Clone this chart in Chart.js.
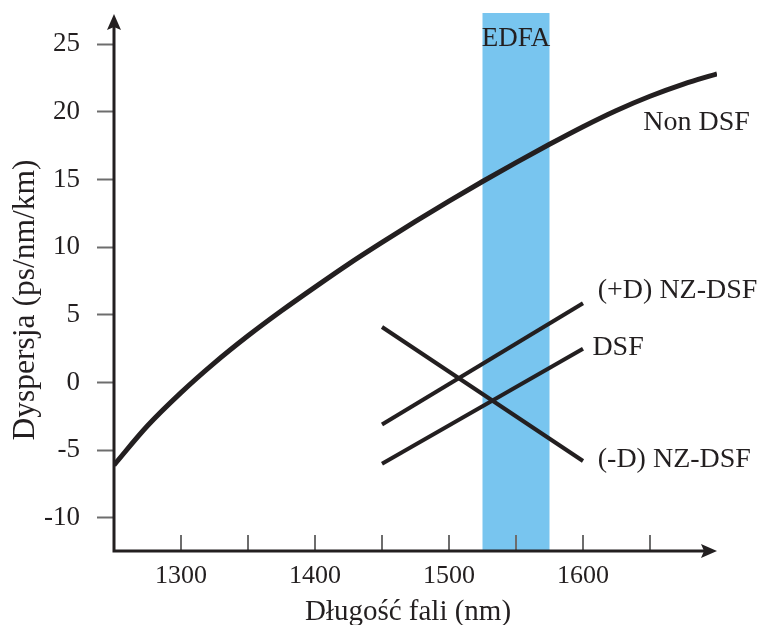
<!DOCTYPE html>
<html>
<head>
<meta charset="utf-8">
<script src="https://cdn.jsdelivr.net/npm/chart.js@4"></script>
<style>
  html, body { margin: 0; padding: 0; background: #fff; }
  #wrap { width: 760px; height: 625px; }
</style>
</head>
<body>
<div id="wrap"><canvas id="chart"></canvas></div>
<script>
// values
const nonDsfWavelengths = [1250, 1275, 1300, 1325, 1350, 1375, 1400, 1425, 1450, 1475, 1500, 1525, 1550, 1575, 1600, 1625, 1650, 1675, 1700];
const nonDsfValues = [-6.1, -3.2, -0.75, 1.45, 3.45, 5.3, 7.05, 8.75, 10.35, 11.9, 13.4, 14.85, 16.25, 17.6, 18.9, 20.1, 21.15, 22.05, 22.8];

const lineWavelengths = [1450, 1600];
const plusNzDsfValues = [-3.1, 5.85];
const dsfValues = [-6.0, 2.5];
const minusNzDsfValues = [4.1, -5.8];

const edfaBand = [1525, 1575];
const xLabelTicks = [1300, 1400, 1500, 1600];
const xMarkTicks = [1300, 1350, 1400, 1450, 1500, 1550, 1600, 1650];
const yTicks = [-10, -5, 0, 5, 10, 15, 20, 25];

const curveLabels = ['Non DSF', '(+D) NZ-DSF', 'DSF', '(-D) NZ-DSF'];
const curveLabelWavelengths = [1645, 1611, 1607, 1611];
const curveLabelValues = [19.2, 6.8, 2.6, -5.7];
const bandLabel = 'EDFA';

const INK = '#231f20';
const SERIF = "'Liberation Serif', 'Times New Roman', serif";

Chart.defaults.font.family = SERIF;
Chart.defaults.color = INK;

const toPoints = (xs, ys) => xs.map((x, i) => ({ x, y: ys[i] }));

// let the plot area run to the edges we set, not to the tick label boxes
function dropLabelPadding(scale) {
  scale.paddingTop = 0;
  scale.paddingBottom = 0;
  scale.paddingLeft = 0;
  scale.paddingRight = 0;
}

const overlay = {
  id: 'overlay',
  beforeDatasetsDraw(chart) {
    const { ctx, chartArea, scales: { x } } = chart;
    const left = x.getPixelForValue(edfaBand[0]);
    const right = x.getPixelForValue(edfaBand[1]);
    ctx.save();
    ctx.fillStyle = '#78c5ef';
    ctx.fillRect(left, chartArea.top, right - left, chartArea.bottom - chartArea.top);
    ctx.restore();
  },
  afterDatasetsDraw(chart) {
    const { ctx, chartArea, scales: { x, y } } = chart;
    const { left, right, top, bottom } = chartArea;
    ctx.save();

    // inward tick marks on the wavelength axis
    ctx.strokeStyle = '#6d6d6d';
    ctx.lineWidth = 2;
    xMarkTicks.forEach((v) => {
      const px = Math.round(x.getPixelForValue(v));
      ctx.beginPath();
      ctx.moveTo(px, bottom);
      ctx.lineTo(px, bottom - 16);
      ctx.stroke();
    });

    // axis lines with arrow heads
    ctx.strokeStyle = INK;
    ctx.fillStyle = INK;
    ctx.lineWidth = 3;
    ctx.beginPath();
    ctx.moveTo(left, bottom + 1.5);
    ctx.lineTo(left, top + 10);
    ctx.moveTo(left - 1.5, bottom);
    ctx.lineTo(right - 10, bottom);
    ctx.stroke();

    ctx.beginPath();
    ctx.moveTo(left, top + 1);
    ctx.lineTo(left - 7, top + 17);
    ctx.lineTo(left, top + 14);
    ctx.lineTo(left + 7, top + 17);
    ctx.closePath();
    ctx.fill();

    ctx.beginPath();
    ctx.moveTo(right, bottom);
    ctx.lineTo(right - 16, bottom - 7);
    ctx.lineTo(right - 13, bottom);
    ctx.lineTo(right - 16, bottom + 7);
    ctx.closePath();
    ctx.fill();

    // curve names and band name
    ctx.font = `28px ${SERIF}`;
    ctx.textBaseline = 'middle';
    ctx.textAlign = 'left';
    curveLabels.forEach((text, i) => {
      ctx.fillText(text, x.getPixelForValue(curveLabelWavelengths[i]), y.getPixelForValue(curveLabelValues[i]));
    });
    ctx.font = `27px ${SERIF}`;
    ctx.textAlign = 'center';
    ctx.fillText(bandLabel, x.getPixelForValue((edfaBand[0] + edfaBand[1]) / 2), y.getPixelForValue(25.4));

    // axis titles
    ctx.font = `29px ${SERIF}`;
    ctx.textAlign = 'center';
    ctx.textBaseline = 'alphabetic';
    ctx.fillText('Długość fali (nm)', 408, 620);

    ctx.font = `31.5px ${SERIF}`;
    ctx.translate(26, 300);
    ctx.rotate(-Math.PI / 2);
    ctx.textBaseline = 'middle';
    ctx.fillText('Dyspersja (ps/nm/km)', 0, 0);

    ctx.restore();
  }
};

const lineStyle = (width) => ({
  borderColor: INK,
  borderWidth: width,
  pointRadius: 0,
  fill: false
});

new Chart(document.getElementById('chart'), {
  type: 'line',
  data: {
    datasets: [
      { label: 'Non DSF', data: toPoints(nonDsfWavelengths, nonDsfValues), ...lineStyle(5), cubicInterpolationMode: 'monotone' },
      { label: '(+D) NZ-DSF', data: toPoints(lineWavelengths, plusNzDsfValues), ...lineStyle(4) },
      { label: 'DSF', data: toPoints(lineWavelengths, dsfValues), ...lineStyle(4) },
      { label: '(-D) NZ-DSF', data: toPoints(lineWavelengths, minusNzDsfValues), ...lineStyle(4) }
    ]
  },
  options: {
    responsive: true,
    maintainAspectRatio: false,
    animation: false,
    events: [],
    layout: { padding: { left: 0, right: 43, top: 13, bottom: 0 } },
    plugins: { legend: { display: false }, tooltip: { enabled: false } },
    scales: {
      x: {
        type: 'linear',
        position: 'bottom',
        min: 1250,
        max: 1700,
        afterBuildTicks(scale) { scale.ticks = xLabelTicks.map((value) => ({ value })); },
        afterFit(scale) { scale.height = 74; dropLabelPadding(scale); },
        ticks: { font: { size: 26 }, color: INK, padding: 10, maxRotation: 0, autoSkip: false, callback: (v) => String(v) },
        grid: { display: false, drawTicks: false, tickLength: 0 },
        border: { display: false }
      },
      y: {
        type: 'linear',
        min: -12.45,
        max: 27.3,
        afterBuildTicks(scale) { scale.ticks = yTicks.map((value) => ({ value })); },
        afterFit(scale) { scale.width = 114; dropLabelPadding(scale); },
        ticks: { font: { size: 27 }, color: INK, padding: 17, autoSkip: false, callback: (v) => String(v) },
        grid: { display: true, drawOnChartArea: false, drawTicks: true, tickLength: 17, tickColor: '#6d6d6d', tickWidth: 2 },
        border: { display: false }
      }
    }
  },
  plugins: [overlay]
});
</script>
</body>
</html>
